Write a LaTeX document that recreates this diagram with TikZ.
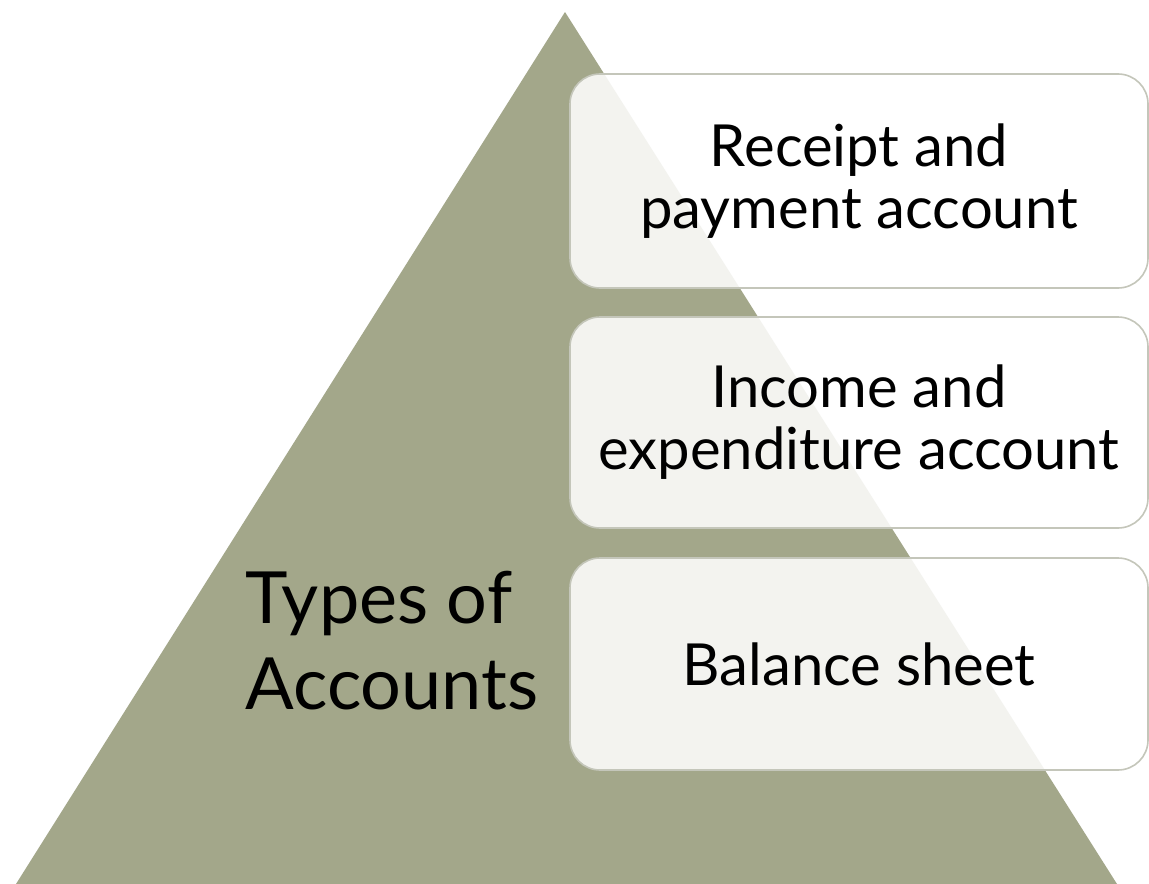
\documentclass[tikz,border=0pt]{standalone}
\usepackage{fontspec}
\setmainfont{Lato}
\definecolor{sage}{RGB}{163,167,138}
\definecolor{boxline}{RGB}{196,198,186}
\begin{document}
\begin{tikzpicture}[x=1bp,y=-1bp,
  acctbox/.style={rectangle, rounded corners=30bp, draw=boxline, line width=1.6bp,
    fill=white, fill opacity=0.87, text opacity=1, text=black,
    minimum width=578bp, align=center,
    font=\fontsize{58bp}{62bp}\selectfont},
  titletext/.style={align=left, text=black, anchor=west,
    font=\fontsize{72bp}{86bp}\selectfont}]
  \useasboundingbox (0,0) rectangle (1149,884);
  \fill[white] (0,0) rectangle (1149,884);
  % pyramid
  \fill[sage] (565,12) -- (1117,884) -- (16,884) -- cycle;
  % title on the pyramid
  \node[titletext] (title) at (242,641) {Types of\\Accounts};
  % account boxes
  \node[acctbox, minimum height=214bp] (rp) at (859,181) {Receipt and\\payment account};
  \node[acctbox, minimum height=211bp] (ie) at (859,422.5) {Income and\\expenditure account};
  \node[acctbox, minimum height=212bp] (bs) at (859,664) {Balance sheet};
\end{tikzpicture}
\end{document}
